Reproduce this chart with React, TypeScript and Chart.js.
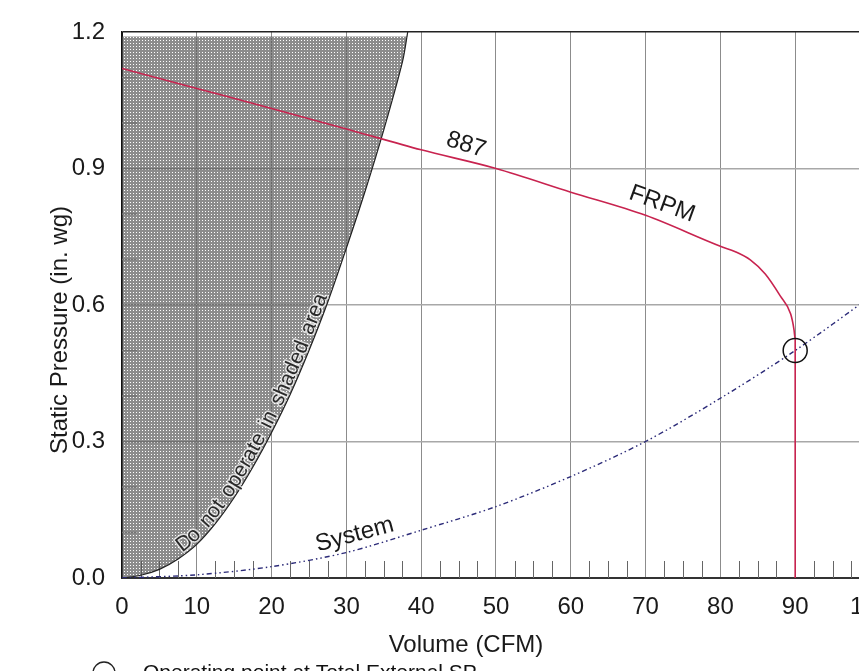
import React, { useEffect, useRef } from 'react';
import { Chart, registerables } from 'chart.js';

Chart.register(...registerables);

// ---- data ----
const shadeX = [0, 2.5, 5, 7.5, 10, 12.5, 15, 17.5, 20, 22.5, 25, 27.5, 30, 32.5, 35, 37.5, 38.2];
const shadeY = [0, 0.006, 0.019, 0.042, 0.074, 0.12, 0.177, 0.244, 0.32, 0.404, 0.5, 0.606, 0.725, 0.85, 0.985, 1.135, 1.2];

const fanX = [0, 10, 20, 30, 40, 50, 60, 70, 80, 82, 84, 86, 88, 89.4, 89.85, 90, 90];
const fanY = [1.12, 1.076, 1.032, 0.987, 0.941, 0.9, 0.848, 0.797, 0.729, 0.717, 0.699, 0.668, 0.62, 0.58, 0.545, 0.525, 0];

const systemX = [0, 10, 20, 30, 40, 50, 60, 70, 80, 90, 100];
const systemY = [0, 0.007, 0.025, 0.056, 0.105, 0.157, 0.223, 0.3, 0.395, 0.5, 0.617];

const opX = [90];
const opY = [0.5];

const xMin = 0, xMax = 100, xStep = 10, xMinorStep = 2.5;
const yMin = 0, yMax = 1.2, yStep = 0.3, yMinorStep = 0.1;

const curveLabels = [
  { text: '887', x: 46.0, y: 0.952, rot: 17, size: 24 },
  { text: 'FRPM', x: 72.2, y: 0.822, rot: 20, size: 24 },
  { text: 'System', x: 31.1, y: 0.095, rot: -15, size: 24 },
];

// text that follows the shaded boundary, starting at this x (data units)
const shadeLabel = 'Do not operate in shaded area';
const shadeLabelStartX = 8.2;

const xTitle = 'Volume (CFM)';
const yTitle = 'Static Pressure (in. wg)';
const legendText = 'Operating point at Total External SP';

const FONT = '"Liberation Sans", Arial, Helvetica, sans-serif';
const TEXT = '#1a1a1a';

const pts = (xs: number[], ys: number[]) => xs.map((x, i) => ({ x, y: ys[i] }));

function drawTextAlongCurve(ctx: CanvasRenderingContext2D, xs: any, ys: any) {
  const poly: { x: number; y: number }[] = [];
  for (let i = 0; i < shadeX.length - 1; i++) {
    for (let k = 0; k < 10; k++) {
      const t = k / 10;
      const vx = shadeX[i] + (shadeX[i + 1] - shadeX[i]) * t;
      const vy = shadeY[i] + (shadeY[i + 1] - shadeY[i]) * t;
      poly.push({ x: xs.getPixelForValue(vx), y: ys.getPixelForValue(vy) });
    }
  }
  poly.push({ x: xs.getPixelForValue(shadeX[shadeX.length - 1]), y: ys.getPixelForValue(shadeY[shadeY.length - 1]) });
  const cum: number[] = [0];
  for (let i = 1; i < poly.length; i++) {
    cum.push(cum[i - 1] + Math.hypot(poly[i].x - poly[i - 1].x, poly[i].y - poly[i - 1].y));
  }
  const at = (s: number) => {
    let i = 1;
    while (i < cum.length - 1 && cum[i] < s) i++;
    const a = poly[i - 1], b = poly[i];
    const seg = cum[i] - cum[i - 1] || 1;
    const t = (s - cum[i - 1]) / seg;
    return { x: a.x + (b.x - a.x) * t, y: a.y + (b.y - a.y) * t, ang: Math.atan2(b.y - a.y, b.x - a.x) };
  };
  const startPx = xs.getPixelForValue(shadeLabelStartX);
  let s = 0;
  for (let i = 1; i < poly.length; i++) {
    if (poly[i].x >= startPx) { s = cum[i]; break; }
  }
  ctx.save();
  ctx.font = `21px ${FONT}`;
  ctx.textAlign = 'center';
  ctx.textBaseline = 'alphabetic';
  const offset = 2.5;
  for (const ch of shadeLabel) {
    const w = ctx.measureText(ch).width + (ch === ' ' ? 3 : 0);
    const p = at(s + w / 2);
    if (ch !== ' ') {
      const nx = Math.sin(p.ang), ny = -Math.cos(p.ang);
      ctx.save();
      ctx.translate(p.x + nx * offset, p.y + ny * offset);
      ctx.rotate(p.ang);
      ctx.strokeStyle = 'rgba(255,255,255,0.7)';
      ctx.lineWidth = 3;
      ctx.lineJoin = 'round';
      ctx.strokeText(ch, 0, 0);
      ctx.fillStyle = '#2a2a2a';
      ctx.fillText(ch, 0, 0);
      ctx.restore();
    }
    s += w;
  }
  ctx.restore();
}

const annotPlugin = {
  id: 'annot',
  beforeDatasetsDraw(chart: any) {
    const { ctx, chartArea, scales } = chart;
    const xs = scales.x, ys = scales.y;
    ctx.save();
    ctx.strokeStyle = '#666';
    ctx.lineWidth = 1;
    for (let v = xMin + xMinorStep; v < xMax; v += xMinorStep) {
      if (Math.abs(v / xStep - Math.round(v / xStep)) < 1e-6) continue;
      const px = Math.round(xs.getPixelForValue(v)) + 0.5;
      ctx.beginPath();
      ctx.moveTo(px, chartArea.bottom);
      ctx.lineTo(px, chartArea.bottom - 17);
      ctx.stroke();
    }
    ctx.strokeStyle = '#b0b0b0';
    ctx.lineWidth = 1.5;
    for (let i = 1; i * yMinorStep < yMax - 1e-6; i++) {
      const v = i * yMinorStep;
      if (Math.abs(v / yStep - Math.round(v / yStep)) < 1e-6) continue;
      const py = ys.getPixelForValue(v);
      ctx.beginPath();
      ctx.moveTo(chartArea.left, py);
      ctx.lineTo(chartArea.left + 15, py);
      ctx.stroke();
    }
    ctx.restore();
  },
  afterDatasetsDraw(chart: any) {
    const { ctx, scales } = chart;
    const xs = scales.x, ys = scales.y;
    ctx.save();
    ctx.fillStyle = TEXT;
    ctx.textAlign = 'center';
    ctx.textBaseline = 'middle';
    for (const l of curveLabels) {
      ctx.save();
      ctx.translate(xs.getPixelForValue(l.x), ys.getPixelForValue(l.y));
      ctx.rotate((l.rot * Math.PI) / 180);
      ctx.font = `${l.size}px ${FONT}`;
      ctx.fillText(l.text, 0, 0);
      ctx.restore();
    }
    ctx.restore();
    drawTextAlongCurve(ctx, xs, ys);
  },
  afterDraw(chart: any) {
    const { ctx } = chart;
    ctx.save();
    ctx.fillStyle = TEXT;
    ctx.font = `24px ${FONT}`;
    ctx.textAlign = 'center';
    ctx.textBaseline = 'alphabetic';
    ctx.fillText(xTitle, 466, 652);
    ctx.save();
    ctx.translate(67, 330);
    ctx.rotate(-Math.PI / 2);
    ctx.fillText(yTitle, 0, 0);
    ctx.restore();
    // legend
    ctx.strokeStyle = '#222';
    ctx.lineWidth = 1.3;
    ctx.beginPath();
    ctx.arc(104, 673, 11, 0, Math.PI * 2);
    ctx.stroke();
    ctx.font = `21px ${FONT}`;
    ctx.textAlign = 'left';
    ctx.fillStyle = '#111';
    ctx.fillText(legendText, 143, 679);
    ctx.restore();
  },
};

export default function App() {
  const ref = useRef<HTMLCanvasElement | null>(null);
  useEffect(() => {
    const canvas = ref.current;
    if (!canvas) return;
    const ctx = canvas.getContext('2d')!;
    const tile = document.createElement('canvas');
    tile.width = 3;
    tile.height = 3;
    const t = tile.getContext('2d')!;
    t.fillStyle = 'rgba(85,85,85,0.68)';
    t.fillRect(0, 0, 3, 3);
    t.clearRect(1, 1, 1, 1);
    const pattern = ctx.createPattern(tile, 'repeat');

    const chart = new Chart(ctx, {
      type: 'line',
      data: {
        datasets: [
          {
            label: 'Operating point',
            data: pts(opX, opY),
            showLine: false,
            pointRadius: 12,
            pointBorderWidth: 1.5,
            pointBorderColor: '#111',
            pointBackgroundColor: 'rgba(0,0,0,0)',
            borderColor: '#111',
          },
          {
            label: '887 FRPM',
            data: pts(fanX, fanY),
            borderColor: '#c8234f',
            borderWidth: 1.6,
            pointRadius: 0,
            cubicInterpolationMode: 'monotone',
            fill: false,
          },
          {
            label: 'System',
            data: pts(systemX, systemY),
            borderColor: '#2b2a78',
            borderWidth: 1.4,
            borderDash: [5, 3, 1.5, 3, 1.5, 3],
            pointRadius: 0,
            tension: 0.3,
            fill: false,
          },
          {
            label: 'Shaded',
            data: pts(shadeX, shadeY),
            borderColor: '#222',
            borderWidth: 1.2,
            pointRadius: 0,
            tension: 0.3,
            backgroundColor: pattern as any,
            fill: { value: 1.19 } as any,
          },
        ],
      },
      options: {
        responsive: false,
        animation: false,
        devicePixelRatio: 1,
        layout: { padding: { top: 32, right: 26, left: 0, bottom: 0 } },
        plugins: { legend: { display: false }, tooltip: { enabled: false } },
        scales: {
          x: {
            type: 'linear',
            min: xMin,
            max: xMax,
            afterFit: (s: any) => { s.height = 93; },
            ticks: {
              stepSize: xStep,
              autoSkip: false,
              maxRotation: 0,
              padding: 15,
              color: TEXT,
              font: { family: FONT, size: 24 },
            },
            grid: {
              drawTicks: false,
              color: (c: any) => (c.tick && c.tick.value === 0 ? '#111' : '#8c8c8c'),
              lineWidth: 1,
            },
            border: { color: '#333', width: 2 },
          },
          y: {
            type: 'linear',
            min: yMin,
            max: yMax,
            afterFit: (s: any) => { s.width = 122; },
            ticks: {
              stepSize: yStep,
              padding: 17,
              color: TEXT,
              font: { family: FONT, size: 24 },
              callback: (v: any) => Number(v).toFixed(1),
            },
            grid: {
              drawTicks: false,
              color: (c: any) => (c.tick && Math.abs(c.tick.value - yMax) < 1e-6 ? '#222' : '#a8a8a8'),
              lineWidth: 1.5,
            },
            border: { color: '#111', width: 1.5 },
          },
        },
      },
      plugins: [annotPlugin],
    });
    return () => chart.destroy();
  }, []);

  return (
    <div style={{ position: 'fixed', left: 0, top: 0, width: 859, height: 671, overflow: 'hidden', background: '#fff' }}>
      <canvas ref={ref} width={905} height={671} style={{ display: 'block', width: 905, height: 671 }} />
    </div>
  );
}
